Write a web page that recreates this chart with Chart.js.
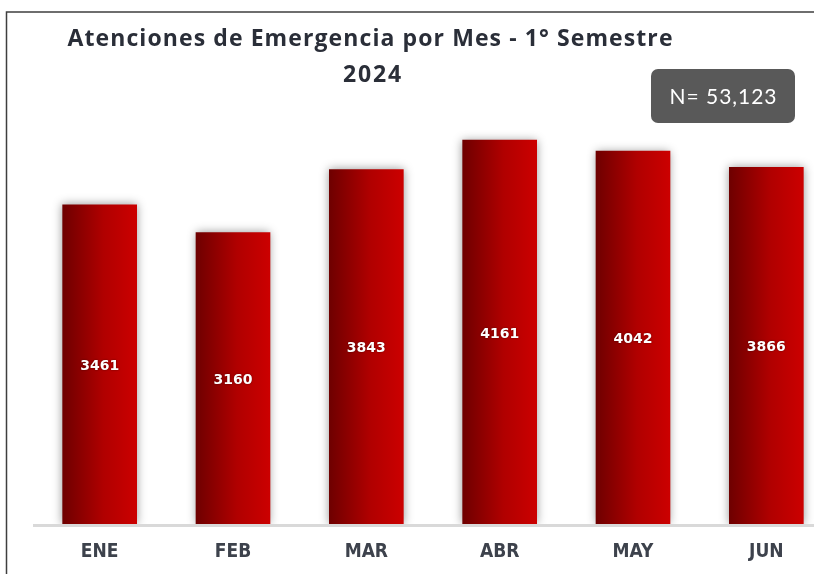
<!DOCTYPE html>
<html>
<head>
<meta charset="utf-8">
<script src="https://cdn.jsdelivr.net/npm/chart.js@4.4.1/dist/chart.umd.min.js"></script>
<style>
  html, body { margin: 0; padding: 0; background: #ffffff; overflow: hidden; }
  #wrap { position: relative; width: 860px; height: 574px; }
</style>
</head>
<body>
<div id="wrap"><canvas id="c" width="860" height="574"></canvas></div>
<script>
const titleLines = ["Atenciones de Emergencia por Mes - 1° Semestre", "2024"];
const totalLabel = "N= 53,123";
const months = ["ENE", "FEB", "MAR", "ABR", "MAY", "JUN"];
const attentions = [3461, 3160, 3843, 4161, 4042, 3866];
const yMax = 4500;

function fitText(ctx, text, x, y, targetWidth) {
  ctx.letterSpacing = '0px';
  const w = ctx.measureText(text).width;
  const sp = Math.max(0, (targetWidth - w) / text.length);
  ctx.letterSpacing = sp.toFixed(2) + 'px';
  ctx.fillText(text, x + sp / 2, y);
  ctx.letterSpacing = '0px';
}

const decorPlugin = {
  id: 'decor',
  beforeDatasetsDraw(chart) {
    const ctx = chart.ctx;
    const area = chart.chartArea;
    ctx.save();
    ctx.strokeStyle = '#d9d9d9';
    ctx.lineWidth = 3;
    ctx.beginPath();
    ctx.moveTo(area.left, area.bottom + 1.5);
    ctx.lineTo(chart.width, area.bottom + 1.5);
    ctx.stroke();
    ctx.restore();
    const meta = chart.getDatasetMeta(0);
    meta.data.forEach(el => {
      const l = el.x - el.width / 2, r = el.x + el.width / 2;
      const g = ctx.createLinearGradient(l, 0, r, 0);
      g.addColorStop(0, '#6e0000');
      g.addColorStop(0.55, '#b00000');
      g.addColorStop(1, '#cc0000');
      el.options.backgroundColor = g;
    });
  },
  beforeDatasetDraw(chart) {
    const ctx = chart.ctx;
    ctx.save();
    ctx.shadowColor = 'rgba(0,0,0,0.4)';
    ctx.shadowBlur = 9;
    ctx.shadowOffsetX = 0;
    ctx.shadowOffsetY = 0;
  },
  afterDatasetDraw(chart) {
    chart.ctx.restore();
    const ctx = chart.ctx;
    const meta = chart.getDatasetMeta(0);
    ctx.save();
    ctx.font = 'bold 14px "DejaVu Sans"';
    ctx.fillStyle = '#ffffff';
    ctx.textAlign = 'center';
    ctx.textBaseline = 'middle';
    ctx.shadowColor = 'rgba(0,0,0,0.5)';
    ctx.shadowBlur = 2;
    meta.data.forEach((el, i) => {
      ctx.fillText(String(chart.data.datasets[0].data[i]), el.x, (el.y + el.base) / 2 + 2);
    });
    ctx.restore();
  },
  afterDraw(chart) {
    const ctx = chart.ctx;
    ctx.save();
    ctx.strokeStyle = '#3f3f3f';
    ctx.lineWidth = 1.5;
    ctx.beginPath();
    ctx.moveTo(6.5, chart.height);
    ctx.lineTo(6.5, 12);
    ctx.lineTo(chart.width, 12);
    ctx.stroke();
    ctx.fillStyle = '#2a2e38';
    ctx.textAlign = 'center';
    ctx.textBaseline = 'alphabetic';
    ctx.font = 'bold 23px "Open Sans"';
    fitText(ctx, titleLines[0], 370, 46, 606);
    fitText(ctx, titleLines[1], 372, 82, 60);
    ctx.fillStyle = '#595959';
    ctx.beginPath();
    ctx.roundRect(651, 69, 144, 54, 7);
    ctx.fill();
    ctx.fillStyle = '#ffffff';
    ctx.font = '21px Lato';
    ctx.textBaseline = 'middle';
    fitText(ctx, totalLabel, 723, 97, 108);
    ctx.restore();
  }
};

new Chart(document.getElementById('c'), {
  type: 'bar',
  data: {
    labels: months,
    datasets: [{
      data: attentions,
      backgroundColor: () => '#b00000',
      borderWidth: 0,
      categoryPercentage: 1.0,
      barPercentage: 0.56
    }]
  },
  options: {
    responsive: false,
    animation: false,
    layout: { padding: { top: 108.5, left: 33, right: 27, bottom: 0 } },
    plugins: { legend: { display: false }, tooltip: { enabled: false }, title: { display: false } },
    scales: {
      x: {
        grid: { display: false, drawTicks: false },
        border: { display: false },
        ticks: {
          padding: 17,
          color: '#3d424c',
          font: { family: '"Liberation Sans Narrow", "DejaVu Sans Condensed", sans-serif', size: 19, weight: 'bold' }
        },
        afterFit(s) { s.height = 50; }
      },
      y: { display: false, min: 0, max: yMax }
    }
  },
  plugins: [decorPlugin]
});
</script>
</body>
</html>
